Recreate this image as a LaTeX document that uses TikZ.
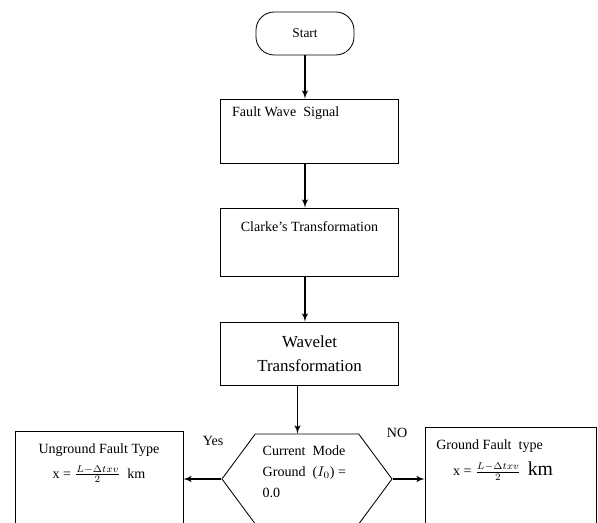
\documentclass[tikz,border=0pt]{standalone}
\usepackage{fontspec}
\setmainfont{Liberation Serif}
\usetikzlibrary{arrows,shapes.symbols}

\begin{document}
\begin{tikzpicture}[x=0.025cm,y=-0.025cm,->,>=latex',line width=1pt,
startstop/.style={rectangle,rounded corners=13pt,draw,line width=0.6pt,minimum width=2.45cm,minimum height=1.075cm,inner sep=0pt,font=\fontsize{9.5}{11}\selectfont},
process/.style={rectangle,draw,line width=0.6pt,minimum width=4.43cm,inner sep=0pt},
decision/.style={signal,signal from=nowhere,signal to=west and east,signal pointer angle=107,draw,line width=0.6pt,minimum width=4.25cm,minimum height=2.25cm,inner sep=0pt},
result/.style={rectangle,draw,line width=0.6pt,inner sep=0pt},
every label/.style={inner sep=0pt,font=\fontsize{10}{12}\selectfont}]

\useasboundingbox (0,0) rectangle (598,523);
\clip (0,0) rectangle (598,523);

\node[startstop] (start) at (305,33.5) {Start};
\node[process,minimum height=1.6cm,label={[anchor=north west,xshift=0.275cm,yshift=-0.19cm]north west:{Fault Wave\ \ Signal}}] (wave) at (309.5,131) {};
\node[process,minimum height=1.7cm,label={[anchor=north,yshift=-0.34cm]north:{Clarke's Transformation}}] (clarke) at (309.5,242) {};
\node[process,minimum height=1.575cm,align=center,font=\fontsize{12}{17}\selectfont] (wavelet) at (309.5,353.5) {Wavelet\\Transformation};

\node[decision,label={[anchor=north west,align=left,xshift=-1.125cm,yshift=-0.29cm,font=\fontsize{10}{14.9}\selectfont]north:{Current\ \ Mode\\Ground\ \ ($I_0$) =\\0.0}}] (ground) at (307,479) {};

\node[result,minimum width=4.2cm,minimum height=3.2cm,label={[anchor=north,align=center,yshift=-0.31cm,font=\fontsize{10}{17.5}\selectfont]north:{Unground Fault Type\\x = $\frac{L-\Delta txv}{2}$~~km}}] (unground) at (99,495) {};
\node[result,minimum width=4.275cm,minimum height=3.325cm,label={[anchor=north west,align=left,xshift=0.275cm,yshift=-0.31cm,font=\fontsize{10}{18.4}\selectfont]north west:{Ground Fault\ \ type\\\hspace*{12pt}x = $\frac{L-\Delta txv}{2}$~~{\fontsize{14}{16}\selectfont km}}}] (grounded) at (510.5,493.5) {};

\node[font=\fontsize{10}{12}\selectfont] (yes) at (213,441) {Yes};
\node[font=\fontsize{10}{12}\selectfont] (no) at (397,433) {NO};

\draw (start.south) -- (start.south |- wave.north);
\draw (wave.south -| start.south) -- (clarke.north -| start.south);
\draw (clarke.south -| start.south) -- (wavelet.north -| start.south);
\draw (wavelet.south) ++(-12,0) coordinate (tip) -- (tip |- ground.north);
\draw (ground.west) -- (ground.west -| unground.east);
\draw (ground.east) -- (ground.east -| grounded.west);

\end{tikzpicture}
\end{document}
